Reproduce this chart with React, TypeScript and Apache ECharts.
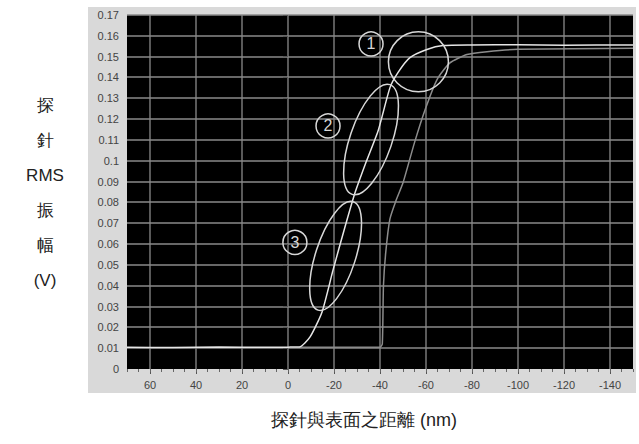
import React, { useEffect, useRef } from "react";
import * as echarts from "echarts";

// Axis ticks
const xTickLabels = [60, 40, 20, 0, -20, -40, -60, -80, -100, -120, -140];
const yTickLabels = [0.01, 0.02, 0.03, 0.04, 0.05, 0.06, 0.07, 0.08, 0.09, 0.1, 0.11, 0.12, 0.13, 0.14, 0.15, 0.16, 0.17];
const xMin = -150;
const xMax = 70;
const yMin = 0;
const yMax = 0.17;
const yStep = 0.01;

// Curve 1 (white): approach curve
const whiteX = [70, 50, 30, 10, 0, -5, -9.6, -14.8, -19.6, -24.8, -29.1, -34, -39.3, -44.3, -47.8, -53, -60.4, -67.4, -80, -100, -120, -150];
const whiteY = [0.0105, 0.0103, 0.0106, 0.0104, 0.0105, 0.0106, 0.0154, 0.0274, 0.0476, 0.0683, 0.0845, 0.0995, 0.1148, 0.135, 0.1423, 0.1495, 0.1534, 0.1553, 0.1556, 0.1557, 0.1555, 0.1556];

// Curve 2 (gray): retract curve
const grayX = [-5, -20, -40, -41, -41.5, -42.5, -44.3, -47, -50, -55, -59.6, -64.8, -70.4, -77.8, -86.5, -100, -150];
const grayY = [0.0105, 0.0104, 0.0105, 0.012, 0.04, 0.056, 0.072, 0.081, 0.0894, 0.1087, 0.1245, 0.139, 0.147, 0.151, 0.1524, 0.1535, 0.154];

// Annotations (data coordinates)
const ellipseCentersX = [-56.7, -36.1, -20.7];
const ellipseCentersY = [0.1475, 0.1102, 0.0543];
const markerLabels = ["1", "2", "3"];
const markerX = [-36.1, -17.4, -3.0];
const markerY = [0.1561, 0.1167, 0.0608];

const xTitle = "探針與表面之距離 (nm)";
const yTitle = "探\n針\nRMS\n振\n幅\n(V)";

const ellipseStyle = [
  { rx: 30, ry: 30, rot: 0 },
  { rx: 21, ry: 58, rot: -19 },
  { rx: 20, ry: 57, rot: -18 },
];

const GRID = { left: 127, top: 15, width: 506, height: 354 };

export default function App() {
  const ref = useRef<HTMLDivElement>(null);
  useEffect(() => {
    if (!ref.current) return;
    const chart = echarts.init(ref.current, undefined, { renderer: "svg" });
    const minorTicks: number[] = [];
    for (let v = xMin; v <= xMax; v += 5) minorTicks.push(v);
    const font = "'Liberation Sans', Arial, sans-serif";
    const cjkFont = "'Liberation Sans', 'Noto Sans CJK TC', sans-serif";
    chart.setOption({
      animation: false,
      backgroundColor: "#ffffff",
      grid: { ...GRID, show: false },
      xAxis: [
        {
          type: "value",
          min: xMin,
          max: xMax,
          inverse: true,
          position: "bottom",
          axisLine: { show: false },
          axisTick: { show: true, length: 5, inside: false, customValues: xTickLabels, lineStyle: { color: "#555" } },
          axisLabel: { show: true, customValues: xTickLabels, margin: 10, color: "#444", fontSize: 11, fontFamily: font },
          splitLine: { show: false },
        },
        {
          type: "value",
          min: xMin,
          max: xMax,
          inverse: true,
          position: "bottom",
          axisLine: { show: false },
          axisTick: { show: true, length: 3, customValues: minorTicks, lineStyle: { color: "#666" } },
          axisLabel: { show: false },
          splitLine: { show: false },
        },
      ],
      yAxis: {
        type: "value",
        min: yMin,
        max: yMax,
        interval: yStep,
        axisLine: { show: false },
        axisTick: { show: true, length: 5, lineStyle: { color: "#555" } },
        axisLabel: { margin: 8, color: "#444", fontSize: 11, fontFamily: font },
        splitLine: { show: false },
      },
      series: [
        {
          type: "line",
          xAxisIndex: 0,
          data: grayX.map((x, i) => [x, grayY[i]]),
          showSymbol: false,
          smooth: 0.2,
          lineStyle: { color: "#8c8c8c", width: 1.5 },
          z: 3,
        },
        {
          type: "line",
          xAxisIndex: 0,
          data: whiteX.map((x, i) => [x, whiteY[i]]),
          showSymbol: false,
          smooth: 0.2,
          lineStyle: { color: "#e6e6e6", width: 1.5 },
          z: 4,
        },
      ],
    });

    const backdrop: any[] = [
      {
        type: "rect",
        z: -10,
        silent: true,
        shape: { x: 88, y: 7, width: 548, height: 386 },
        style: { fill: "#d9d9d9" },
      },
      {
        type: "rect",
        z: -9,
        silent: true,
        shape: { x: GRID.left, y: GRID.top, width: GRID.width, height: GRID.height },
        style: { fill: "#000000" },
      },
    ];
    const gridLines: any[] = [];
    const top = GRID.top;
    const bottom = GRID.top + GRID.height;
    const left = GRID.left;
    const right = GRID.left + GRID.width;
    const gridStroke = { stroke: "#8a8a8a", lineWidth: 1.3 };
    xTickLabels.forEach((v) => {
      const p = chart.convertToPixel({ gridIndex: 0 }, [v, yMin]) as number[];
      const px = Math.round(p[0]);
      gridLines.push({
        type: "line",
        z: -8,
        silent: true,
        shape: { x1: px, y1: top, x2: px, y2: bottom },
        style: gridStroke,
      });
    });
    yTickLabels.forEach((v) => {
      const p = chart.convertToPixel({ gridIndex: 0 }, [xMax, v]) as number[];
      const py = Math.round(p[1]);
      gridLines.push({
        type: "line",
        z: -8,
        silent: true,
        shape: { x1: left, y1: py, x2: right, y2: py },
        style: gridStroke,
      });
    });
    const graphics: any[] = [
      {
        type: "text",
        x: 45,
        y: 87.5,
        style: { text: yTitle, align: "center", verticalAlign: "top", fontSize: 17, lineHeight: 35, fill: "#222", font: `17px ${cjkFont}` },
      },
      {
        type: "text",
        x: 364,
        y: 420,
        style: { text: xTitle, align: "center", verticalAlign: "middle", fontSize: 18, fill: "#222", font: `18px ${cjkFont}` },
      },
    ];
    ellipseCentersX.forEach((x, i) => {
      const p = chart.convertToPixel({ gridIndex: 0 }, [x, ellipseCentersY[i]]) as number[];
      const s = ellipseStyle[i];
      graphics.push({
        type: "ellipse",
        x: p[0],
        y: p[1],
        rotation: (s.rot * Math.PI) / 180,
        z: 10,
        shape: { cx: 0, cy: 0, rx: s.rx, ry: s.ry },
        style: { fill: "none", stroke: "#d8d8d8", lineWidth: 1.5 },
      });
    });
    markerX.forEach((x, i) => {
      const p = chart.convertToPixel({ gridIndex: 0 }, [x, markerY[i]]) as number[];
      graphics.push({
        type: "circle",
        z: 10,
        shape: { cx: p[0], cy: p[1], r: 12 },
        style: { fill: "none", stroke: "#d8d8d8", lineWidth: 1.5 },
      });
      graphics.push({
        type: "text",
        z: 10,
        x: p[0],
        y: p[1],
        style: { text: markerLabels[i], align: "center", verticalAlign: "middle", fill: "#d8d8d8", font: `16px ${font}` },
      });
    });
    chart.setOption({ graphic: [...backdrop, ...gridLines, ...graphics] });
    return () => chart.dispose();
  }, []);
  return (
    <div
      ref={ref}
      style={{ position: "absolute", left: 0, top: 0, width: 639, height: 444 }}
    />
  );
}
